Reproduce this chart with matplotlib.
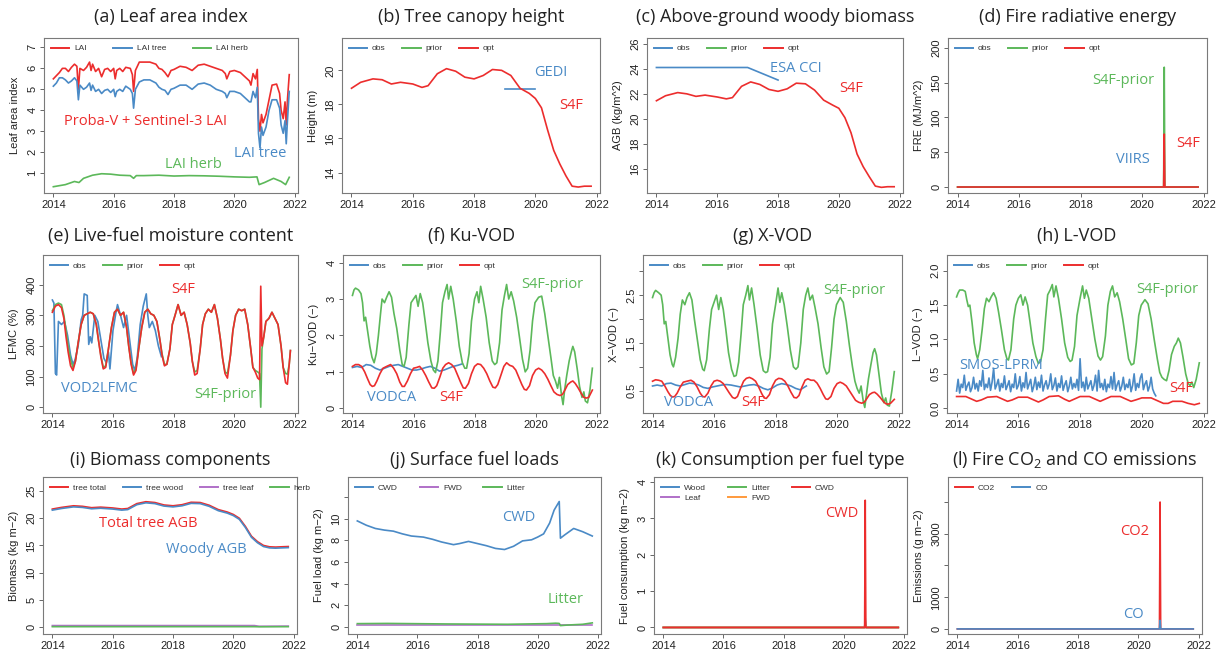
import numpy as np
import matplotlib.pyplot as plt
from matplotlib.lines import Line2D

plt.rcParams['font.family'] = ['Liberation Sans', 'DejaVu Sans']

RED = '#ec2d2d'
BLUE = '#4a8ac6'
GREEN = '#5cb85a'
PURPLE = '#b070c8'
ORANGE = '#ff9a3c'

W, H = 1219, 655
XLIM = (2013.69, 2022.11)
YEARS = [2014, 2016, 2018, 2020, 2022]

# ---------------- data ----------------
# (a) leaf area index
a_t = [2014.0, 2014.1, 2014.2, 2014.3, 2014.4, 2014.5, 2014.6, 2014.7, 2014.78, 2014.83, 2014.88,
       2015.0, 2015.1, 2015.2, 2015.25, 2015.3, 2015.4, 2015.5, 2015.6, 2015.7, 2015.8, 2015.9,
       2016.0, 2016.05, 2016.1, 2016.2, 2016.3, 2016.4, 2016.55, 2016.62, 2016.66, 2016.72, 2016.85,
       2017.0, 2017.2, 2017.4, 2017.5, 2017.6, 2017.7, 2017.8, 2017.9,
       2018.0, 2018.2, 2018.4, 2018.6, 2018.8,
       2019.0, 2019.2, 2019.4, 2019.6, 2019.7, 2019.75, 2019.85,
       2020.0, 2020.2, 2020.35, 2020.5, 2020.55, 2020.62, 2020.7, 2020.76, 2020.8, 2020.85, 2020.9, 2020.95,
       2021.05, 2021.15, 2021.25, 2021.4, 2021.5, 2021.55, 2021.62, 2021.68, 2021.72, 2021.76, 2021.82]
a_lai = [5.5, 5.65, 5.8, 6.0, 6.0, 5.85, 6.05, 6.2, 6.1, 5.0, 6.0,
         5.9, 6.05, 6.3, 5.9, 6.2, 5.85, 6.0, 5.6, 5.95, 6.0, 5.85,
         6.0, 5.5, 5.9, 6.0, 5.85, 6.05, 6.0, 5.7, 4.9, 5.9, 6.3,
         6.3, 6.3, 6.2, 6.0, 5.95, 5.8, 5.6, 5.9,
         5.95, 6.1, 6.05, 5.9, 6.15,
         6.2, 6.1, 6.0, 5.9, 5.75, 5.5, 5.85,
         5.9, 5.8, 5.6, 5.4, 5.2, 5.75, 5.5, 5.95, 3.6, 3.0, 3.8, 3.4,
         3.8, 4.5, 5.2, 5.25, 4.8, 4.0, 3.6, 4.4, 3.3, 4.5, 5.7]
a_tree = [5.15, 5.3, 5.55, 5.55, 5.45, 5.3, 5.4, 5.55, 5.4, 4.5, 5.2,
          5.0, 5.1, 5.3, 4.95, 5.2, 4.9, 5.0, 4.8, 4.95, 5.0, 4.85,
          5.0, 4.65, 4.9, 5.0, 4.9, 5.15, 5.0, 4.8, 4.1, 5.0, 5.35,
          5.45, 5.45, 5.3, 5.1, 5.0, 4.95, 4.75, 5.0,
          5.05, 5.2, 5.2, 5.0, 5.25,
          5.3, 5.2, 5.0, 4.9, 4.8, 4.6, 4.9,
          4.9, 4.8, 4.6, 4.4, 4.4, 4.9, 4.6, 5.1, 2.9, 2.2, 3.2, 2.8,
          3.2, 4.0, 4.5, 4.5, 4.1, 3.3, 2.9, 3.5, 2.4, 3.5, 4.9]
a_herb_t = [2014.0, 2014.4, 2014.7, 2014.85, 2015.0, 2015.3, 2015.6, 2015.9, 2016.2, 2016.55,
            2016.66, 2016.75, 2017.0, 2017.5, 2018.0, 2018.5, 2019.0, 2019.5, 2020.0, 2020.5,
            2020.75, 2020.82, 2021.0, 2021.3, 2021.55, 2021.7, 2021.82]
a_herb = [0.35, 0.45, 0.6, 0.55, 0.75, 0.9, 0.97, 0.95, 0.9, 0.88,
          0.75, 0.88, 0.88, 0.9, 0.86, 0.88, 0.87, 0.85, 0.82, 0.8,
          0.82, 0.45, 0.55, 0.75, 0.6, 0.45, 0.8]

# (b), (c), (i) share the model time steps
model_t = [2014.0, 2014.3, 2014.7, 2015.0, 2015.3, 2015.6, 2016.0, 2016.3, 2016.5, 2016.8,
           2017.1, 2017.4, 2017.7, 2018.0, 2018.3, 2018.6, 2018.9, 2019.2, 2019.5, 2019.8,
           2020.0, 2020.2, 2020.4, 2020.6, 2020.8, 2021.0, 2021.2, 2021.4, 2021.6, 2021.82]
b_opt = [18.95, 19.3, 19.5, 19.45, 19.2, 19.3, 19.2, 19.0, 19.1, 19.8,
         20.1, 19.95, 19.6, 19.5, 19.7, 20.05, 20.0, 19.7, 18.95, 18.65,
         18.35, 17.8, 16.5, 15.3, 14.5, 13.8, 13.2, 13.15, 13.2, 13.2]
b_obs_t = [2019.0, 2020.0]
b_obs = [18.9, 18.9]

c_opt = [21.45, 21.85, 22.1, 22.0, 21.8, 21.9, 21.75, 21.6, 21.7, 22.6,
         22.95, 22.75, 22.35, 22.2, 22.4, 22.85, 22.8, 22.3, 21.5, 21.1,
         20.85, 20.1, 18.9, 17.2, 16.2, 15.4, 14.65, 14.55, 14.6, 14.6]
c_obs_t = [2014.0, 2017.0, 2018.0]
c_obs = [24.1, 24.1, 23.1]

# (d) fire radiative energy
fire_t = [2014.0, 2020.70, 2020.72, 2020.74, 2021.82]
d_obs = [0, 0, 0, 0, 0]
d_prior = [0, 0, 172, 0, 0]
d_opt = [0, 0, 76, 0, 0]

# (e) live-fuel moisture content
e_t = [2014.0, 2014.1, 2014.2, 2014.3, 2014.38, 2014.45, 2014.52, 2014.6, 2014.68, 2014.76, 2014.85, 2014.95,
       2015.05, 2015.15, 2015.25, 2015.35, 2015.45, 2015.52, 2015.6, 2015.68, 2015.76, 2015.85, 2015.95,
       2016.05, 2016.15, 2016.25, 2016.35, 2016.45, 2016.52, 2016.6, 2016.68, 2016.76, 2016.85, 2016.95,
       2017.05, 2017.15, 2017.25, 2017.35, 2017.45, 2017.55, 2017.62, 2017.7, 2017.78, 2017.88, 2017.96,
       2018.05, 2018.15, 2018.25, 2018.35, 2018.45, 2018.55, 2018.62, 2018.7, 2018.78, 2018.88, 2018.96,
       2019.05, 2019.15, 2019.25, 2019.35, 2019.45, 2019.55, 2019.62, 2019.7, 2019.78, 2019.88, 2019.96,
       2020.05, 2020.15, 2020.25, 2020.35, 2020.45, 2020.55, 2020.62, 2020.7, 2020.78, 2020.84, 2020.88, 2020.92, 2020.98,
       2021.05, 2021.15, 2021.25, 2021.35, 2021.45, 2021.55, 2021.62, 2021.7, 2021.76, 2021.82, 2021.86]
e_opt = [310, 330, 335, 325, 290, 230, 180, 135, 120, 150, 210, 270,
         300, 305, 310, 305, 270, 220, 165, 125, 130, 190, 260,
         310, 320, 300, 310, 260, 200, 140, 105, 120, 190, 260,
         310, 320, 305, 300, 280, 220, 170, 135, 140, 190, 270,
         300, 335, 300, 310, 270, 210, 150, 105, 110, 190, 270,
         305, 320, 310, 335, 290, 220, 160, 110, 95, 170, 250,
         300, 320, 315, 320, 270, 190, 130, 115, 95, 90, 395, 200, 230,
         280, 290, 310, 290, 270, 200, 130, 80, 75, 140, 185]
e_prior = [315, 335, 340, 335, 300, 250, 200, 155, 130, 150, 210, 270,
           300, 305, 310, 305, 270, 220, 170, 130, 135, 190, 260,
           310, 320, 300, 310, 260, 200, 145, 110, 125, 190, 260,
           310, 320, 305, 300, 280, 220, 175, 140, 140, 190, 270,
           300, 335, 300, 310, 270, 210, 150, 115, 120, 190, 270,
           305, 320, 310, 335, 290, 220, 160, 115, 110, 170, 250,
           300, 320, 315, 320, 270, 190, 130, 120, 115, 110, 0, 190, 230,
           280, 290, 310, 290, 270, 200, 130, 110, 108, 140, 185]
e_obs_t = [2014.0, 2014.05, 2014.1, 2014.14, 2014.2, 2014.3, 2014.4, 2014.5, 2014.6, 2014.68, 2014.75, 2014.85, 2014.95,
           2015.0, 2015.05, 2015.15, 2015.2, 2015.25, 2015.3, 2015.4, 2015.5, 2015.6, 2015.7, 2015.78, 2015.85, 2015.9,
           2016.0, 2016.1, 2016.15, 2016.25, 2016.35, 2016.45, 2016.55, 2016.65, 2016.72, 2016.8, 2016.9,
           2017.0, 2017.1, 2017.15, 2017.2, 2017.3, 2017.4, 2017.5, 2017.6]
e_obs = [350, 340, 110, 105, 280, 270, 280, 235, 170, 140, 155, 200, 285,
         300, 370, 365, 205, 230, 210, 300, 280, 220, 160, 145, 180, 125,
         250, 310, 335, 300, 260, 300, 220, 140, 120, 160, 270,
         330, 370, 300, 260, 280, 250, 200, 165]

# (f) Ku-VOD  (time, value)
f_prior = [(2014.0, 3.1), (2014.05, 3.25), (2014.1, 3.3), (2014.2, 3.25), (2014.28, 3.15), (2014.33, 2.9),
           (2014.38, 2.4), (2014.43, 2.5), (2014.5, 2.1), (2014.57, 1.7), (2014.64, 1.4), (2014.71, 1.25),
           (2014.78, 1.5), (2014.85, 2.0), (2014.92, 2.6), (2014.97, 3.0), (2015.05, 2.9), (2015.12, 3.05),
           (2015.2, 3.2), (2015.28, 3.05), (2015.36, 2.6), (2015.45, 2.2), (2015.55, 1.6), (2015.63, 1.2),
           (2015.69, 1.15), (2015.76, 1.4), (2015.85, 2.3), (2015.92, 2.9), (2016.0, 3.0), (2016.08, 3.1),
           (2016.15, 2.8), (2016.22, 3.15), (2016.3, 2.9), (2016.38, 2.4), (2016.47, 1.8), (2016.57, 1.3),
           (2016.65, 1.05), (2016.72, 0.98), (2016.8, 1.3), (2016.88, 2.1), (2016.95, 2.9), (2017.03, 3.2),
           (2017.1, 3.4), (2017.15, 3.0), (2017.22, 3.35), (2017.3, 3.0), (2017.4, 2.4), (2017.5, 1.7),
           (2017.6, 1.25), (2017.68, 1.1), (2017.74, 1.1), (2017.82, 1.5), (2017.9, 2.4), (2018.0, 3.0),
           (2018.08, 3.2), (2018.14, 2.9), (2018.2, 3.35), (2018.28, 3.0), (2018.38, 2.5), (2018.48, 1.8),
           (2018.58, 1.3), (2018.66, 1.2), (2018.73, 1.25), (2018.82, 1.8), (2018.9, 2.7), (2018.98, 3.1),
           (2019.05, 3.4), (2019.12, 3.0), (2019.2, 3.2), (2019.28, 2.95), (2019.38, 2.5), (2019.48, 1.9),
           (2019.57, 1.35), (2019.66, 1.0), (2019.74, 1.1), (2019.82, 1.6), (2019.9, 2.4), (2019.98, 2.9),
           (2020.1, 3.05), (2020.2, 3.08), (2020.3, 2.6), (2020.4, 2.0), (2020.5, 1.4), (2020.58, 0.9),
           (2020.65, 0.75), (2020.72, 0.55), (2020.78, 0.85), (2020.85, 0.35), (2020.9, 0.1), (2020.95, 0.5),
           (2021.02, 0.9), (2021.1, 1.3), (2021.17, 1.55), (2021.22, 1.7), (2021.28, 1.55), (2021.36, 1.1),
           (2021.44, 0.6), (2021.52, 0.3), (2021.58, 0.45), (2021.63, 0.2), (2021.7, 0.15), (2021.78, 0.5),
           (2021.86, 1.1)]
f_opt = [(2014.0, 1.15), (2014.1, 1.2), (2014.2, 1.2), (2014.3, 1.15), (2014.4, 1.0), (2014.5, 0.8),
         (2014.58, 0.65), (2014.65, 0.6), (2014.72, 0.62), (2014.8, 0.75), (2014.9, 0.95), (2015.0, 1.1),
         (2015.12, 1.15), (2015.25, 1.2), (2015.35, 1.1), (2015.45, 0.95), (2015.55, 0.72), (2015.63, 0.6),
         (2015.7, 0.6), (2015.8, 0.75), (2015.9, 0.95), (2016.0, 1.1), (2016.1, 1.12), (2016.2, 1.15),
         (2016.3, 1.05), (2016.4, 0.9), (2016.5, 0.72), (2016.6, 0.56), (2016.68, 0.55), (2016.76, 0.62),
         (2016.86, 0.85), (2016.96, 1.1), (2017.05, 1.2), (2017.15, 1.25), (2017.25, 1.2), (2017.35, 1.1),
         (2017.45, 0.9), (2017.55, 0.7), (2017.63, 0.56), (2017.7, 0.55), (2017.8, 0.68), (2017.9, 0.95),
         (2018.0, 1.15), (2018.1, 1.22), (2018.2, 1.2), (2018.3, 1.1), (2018.4, 0.95), (2018.5, 0.75),
         (2018.6, 0.58), (2018.68, 0.56), (2018.76, 0.65), (2018.86, 0.9), (2018.96, 1.15), (2019.05, 1.25),
         (2019.15, 1.18), (2019.25, 1.15), (2019.35, 1.05), (2019.45, 0.85), (2019.55, 0.65), (2019.63, 0.52),
         (2019.7, 0.5), (2019.8, 0.62), (2019.9, 0.9), (2020.0, 1.05), (2020.1, 1.1), (2020.2, 1.05),
         (2020.3, 0.95), (2020.4, 0.8), (2020.5, 0.62), (2020.6, 0.45), (2020.7, 0.38), (2020.8, 0.35),
         (2020.88, 0.38), (2020.96, 0.5), (2021.05, 0.65), (2021.15, 0.72), (2021.22, 0.75), (2021.3, 0.68),
         (2021.4, 0.55), (2021.5, 0.4), (2021.58, 0.3), (2021.66, 0.28), (2021.74, 0.3), (2021.86, 0.5)]
f_obs = [(2014.0, 1.12), (2014.15, 1.15), (2014.3, 1.12), (2014.45, 1.2), (2014.6, 1.18), (2014.75, 1.1),
         (2014.9, 1.05), (2015.05, 1.1), (2015.2, 1.15), (2015.35, 1.18), (2015.5, 1.2), (2015.65, 1.15),
         (2015.8, 1.1), (2015.95, 1.05), (2016.1, 1.05), (2016.25, 1.08), (2016.4, 1.12), (2016.55, 1.15),
         (2016.7, 1.1), (2016.85, 1.02), (2017.0, 1.05), (2017.15, 1.1), (2017.3, 1.15), (2017.45, 1.18),
         (2017.6, 1.22)]

# (g) X-VOD
g_prior = [(2014.0, 2.45), (2014.05, 2.55), (2014.1, 2.6), (2014.2, 2.55), (2014.28, 2.5), (2014.33, 2.3),
           (2014.38, 1.9), (2014.43, 1.95), (2014.5, 1.6), (2014.57, 1.25), (2014.64, 1.05), (2014.68, 1.0),
           (2014.75, 1.2), (2014.83, 1.6), (2014.9, 2.1), (2014.97, 2.4), (2015.05, 2.3), (2015.12, 2.45),
           (2015.2, 2.55), (2015.28, 2.4), (2015.36, 2.0), (2015.45, 1.6), (2015.55, 1.15), (2015.63, 0.95),
           (2015.68, 0.92), (2015.76, 1.15), (2015.85, 1.8), (2015.92, 2.2), (2016.0, 2.35), (2016.08, 2.5),
           (2016.15, 2.2), (2016.22, 2.45), (2016.3, 2.2), (2016.38, 1.8), (2016.47, 1.3), (2016.57, 0.95),
           (2016.65, 0.8), (2016.72, 0.82), (2016.8, 1.1), (2016.88, 1.7), (2016.95, 2.3), (2017.03, 2.5),
           (2017.1, 2.7), (2017.15, 2.4), (2017.22, 2.65), (2017.3, 2.3), (2017.4, 1.8), (2017.5, 1.25),
           (2017.6, 0.92), (2017.68, 0.88), (2017.74, 0.9), (2017.82, 1.2), (2017.9, 1.9), (2018.0, 2.3),
           (2018.08, 2.65), (2018.14, 2.35), (2018.2, 2.55), (2018.28, 2.3), (2018.38, 1.85), (2018.48, 1.35),
           (2018.58, 1.0), (2018.66, 0.95), (2018.73, 1.0), (2018.82, 1.5), (2018.9, 2.2), (2018.98, 2.5),
           (2019.05, 2.65), (2019.12, 2.4), (2019.2, 2.5), (2019.28, 2.25), (2019.38, 1.9), (2019.48, 1.4),
           (2019.57, 1.0), (2019.66, 0.85), (2019.74, 0.9), (2019.82, 1.4), (2019.9, 2.0), (2019.98, 2.3),
           (2020.1, 2.45), (2020.2, 2.35), (2020.3, 1.95), (2020.4, 1.45), (2020.5, 1.0), (2020.58, 0.7),
           (2020.65, 0.55), (2020.72, 0.45), (2020.78, 0.6), (2020.85, 0.28), (2020.9, 0.15), (2020.95, 0.4),
           (2021.02, 0.75), (2021.1, 1.05), (2021.17, 1.3), (2021.22, 1.38), (2021.28, 1.25), (2021.36, 0.85),
           (2021.44, 0.45), (2021.52, 0.25), (2021.58, 0.35), (2021.63, 0.2), (2021.7, 0.18), (2021.78, 0.5),
           (2021.86, 0.9)]
g_opt = [(2014.0, 0.7), (2014.1, 0.73), (2014.2, 0.72), (2014.3, 0.7), (2014.4, 0.6), (2014.5, 0.48),
         (2014.58, 0.4), (2014.65, 0.37), (2014.72, 0.38), (2014.8, 0.45), (2014.9, 0.58), (2015.0, 0.68),
         (2015.12, 0.7), (2015.25, 0.72), (2015.35, 0.68), (2015.45, 0.58), (2015.55, 0.45), (2015.63, 0.38),
         (2015.7, 0.37), (2015.8, 0.45), (2015.9, 0.6), (2016.0, 0.7), (2016.1, 0.72), (2016.2, 0.7),
         (2016.3, 0.65), (2016.4, 0.55), (2016.5, 0.45), (2016.6, 0.36), (2016.68, 0.34), (2016.76, 0.38),
         (2016.86, 0.55), (2016.96, 0.7), (2017.05, 0.76), (2017.15, 0.78), (2017.25, 0.75), (2017.35, 0.7),
         (2017.45, 0.58), (2017.55, 0.44), (2017.63, 0.35), (2017.7, 0.34), (2017.8, 0.42), (2017.9, 0.6),
         (2018.0, 0.72), (2018.1, 0.76), (2018.2, 0.75), (2018.3, 0.7), (2018.4, 0.6), (2018.5, 0.47),
         (2018.6, 0.36), (2018.68, 0.35), (2018.76, 0.4), (2018.86, 0.58), (2018.96, 0.72), (2019.05, 0.75),
         (2019.15, 0.72), (2019.25, 0.72), (2019.35, 0.66), (2019.45, 0.55), (2019.55, 0.42), (2019.63, 0.33),
         (2019.7, 0.32), (2019.8, 0.38), (2019.9, 0.55), (2020.0, 0.65), (2020.1, 0.68), (2020.2, 0.65),
         (2020.3, 0.6), (2020.4, 0.5), (2020.5, 0.4), (2020.6, 0.3), (2020.7, 0.26), (2020.8, 0.24),
         (2020.88, 0.26), (2020.96, 0.33), (2021.05, 0.42), (2021.15, 0.46), (2021.22, 0.47), (2021.3, 0.43),
         (2021.4, 0.36), (2021.5, 0.28), (2021.58, 0.23), (2021.66, 0.22), (2021.74, 0.24), (2021.86, 0.32)]
g_obs = [(2014.0, 0.6), (2014.15, 0.62), (2014.3, 0.6), (2014.45, 0.65), (2014.6, 0.66), (2014.75, 0.62),
         (2014.9, 0.6), (2015.05, 0.63), (2015.2, 0.66), (2015.35, 0.65), (2015.5, 0.62), (2015.65, 0.57),
         (2015.8, 0.55), (2015.95, 0.58), (2016.1, 0.6), (2016.25, 0.62), (2016.4, 0.63), (2016.55, 0.62),
         (2016.7, 0.6), (2016.85, 0.58), (2017.0, 0.6), (2017.15, 0.62), (2017.3, 0.63), (2017.45, 0.6),
         (2017.6, 0.55), (2017.75, 0.52), (2017.9, 0.56), (2018.05, 0.62), (2018.2, 0.65), (2018.35, 0.63),
         (2018.5, 0.6), (2018.65, 0.55), (2018.8, 0.52), (2018.9, 0.56), (2019.0, 0.6)]

# (h) L-VOD
h_prior = [(2014.0, 1.62), (2014.05, 1.68), (2014.1, 1.72), (2014.2, 1.72), (2014.28, 1.7), (2014.33, 1.58),
           (2014.38, 1.48), (2014.43, 1.5), (2014.5, 1.25), (2014.57, 0.95), (2014.64, 0.78), (2014.68, 0.72),
           (2014.75, 0.85), (2014.83, 1.15), (2014.9, 1.45), (2014.97, 1.6), (2015.05, 1.55), (2015.12, 1.62),
           (2015.2, 1.68), (2015.28, 1.6), (2015.36, 1.4), (2015.45, 1.15), (2015.55, 0.85), (2015.63, 0.72),
           (2015.68, 0.7), (2015.76, 0.85), (2015.85, 1.3), (2015.92, 1.5), (2016.0, 1.6), (2016.08, 1.65),
           (2016.15, 1.5), (2016.22, 1.62), (2016.3, 1.5), (2016.38, 1.25), (2016.47, 0.95), (2016.57, 0.75),
           (2016.65, 0.65), (2016.72, 0.68), (2016.8, 0.85), (2016.88, 1.3), (2016.95, 1.65), (2017.03, 1.72),
           (2017.1, 1.8), (2017.15, 1.62), (2017.22, 1.78), (2017.3, 1.6), (2017.4, 1.3), (2017.5, 0.95),
           (2017.6, 0.74), (2017.68, 0.68), (2017.74, 0.7), (2017.82, 0.9), (2017.9, 1.35), (2018.0, 1.6),
           (2018.08, 1.78), (2018.14, 1.6), (2018.2, 1.72), (2018.28, 1.6), (2018.38, 1.3), (2018.48, 1.0),
           (2018.58, 0.76), (2018.66, 0.7), (2018.73, 0.75), (2018.82, 1.05), (2018.9, 1.5), (2018.98, 1.7),
           (2019.05, 1.78), (2019.12, 1.62), (2019.2, 1.68), (2019.28, 1.55), (2019.38, 1.3), (2019.48, 1.0),
           (2019.57, 0.72), (2019.66, 0.63), (2019.74, 0.65), (2019.82, 0.95), (2019.9, 1.35), (2019.98, 1.5),
           (2020.1, 1.58), (2020.2, 1.52), (2020.3, 1.3), (2020.4, 1.0), (2020.5, 0.72), (2020.58, 0.52),
           (2020.65, 0.45), (2020.72, 0.42), (2020.8, 0.4), (2020.88, 0.55), (2020.96, 0.78), (2021.05, 0.9),
           (2021.12, 0.95), (2021.18, 1.02), (2021.25, 0.95), (2021.33, 0.75), (2021.42, 0.5), (2021.5, 0.36),
           (2021.56, 0.33), (2021.62, 0.38), (2021.68, 0.3), (2021.76, 0.42), (2021.86, 0.66)]
h_opt = [(2014.0, 0.17), (2014.3, 0.17), (2014.5, 0.13), (2014.65, 0.1), (2014.8, 0.12), (2015.0, 0.16),
         (2015.3, 0.17), (2015.5, 0.13), (2015.65, 0.1), (2015.8, 0.12), (2016.0, 0.16), (2016.3, 0.16),
         (2016.5, 0.12), (2016.65, 0.09), (2016.8, 0.12), (2017.0, 0.17), (2017.3, 0.18), (2017.5, 0.13),
         (2017.65, 0.1), (2017.8, 0.13), (2018.0, 0.17), (2018.3, 0.17), (2018.5, 0.13), (2018.65, 0.1),
         (2018.8, 0.13), (2019.0, 0.17), (2019.3, 0.17), (2019.5, 0.13), (2019.65, 0.1), (2019.8, 0.12),
         (2020.0, 0.15), (2020.3, 0.15), (2020.5, 0.11), (2020.7, 0.07), (2020.85, 0.07), (2021.0, 0.1),
         (2021.3, 0.1), (2021.5, 0.07), (2021.7, 0.05), (2021.86, 0.07)]
# SMOS-LPRM observations, one value every 0.05 yr from 2014.0 to 2020.45
h_obs = [0.25, 0.42, 0.22, 0.35, 0.30, 0.48, 0.26, 0.33, 0.38, 0.24, 0.30, 0.45, 0.28, 0.36, 0.25, 0.40, 0.32, 0.55, 0.27, 0.35,
         0.30, 0.44, 0.26, 0.38, 0.58, 0.28, 0.34, 0.42, 0.25, 0.36, 0.30, 0.47, 0.27, 0.33, 0.40, 0.24, 0.35, 0.30, 0.50, 0.28,
         0.33, 0.46, 0.25, 0.37, 0.30, 0.52, 0.28, 0.35, 0.42, 0.24, 0.32, 0.45, 0.27, 0.38, 0.30, 0.48, 0.25, 0.34, 0.40, 0.28,
         0.35, 0.50, 0.27, 0.33, 0.44, 0.25, 0.36, 0.30, 0.47, 0.26, 0.34, 0.40, 0.24, 0.32, 0.45, 0.28, 0.36, 0.30, 0.42, 0.26,
         0.72, 0.30, 0.38, 0.25, 0.45, 0.28, 0.34, 0.40, 0.26, 0.33, 0.48, 0.25, 0.55, 0.30, 0.36, 0.27, 0.42, 0.24, 0.35, 0.30,
         0.46, 0.28, 0.52, 0.26, 0.34, 0.40, 0.25, 0.32, 0.45, 0.27, 0.35, 0.30, 0.42, 0.24, 0.33, 0.50, 0.26, 0.36, 0.30, 0.44,
         0.50, 0.27, 0.35, 0.40, 0.25, 0.32, 0.45, 0.28, 0.22, 0.18]

# (i) biomass components
i_total = [21.7, 22.0, 22.3, 22.2, 21.95, 22.05, 21.9, 21.7, 21.8, 22.7,
           23.05, 22.9, 22.45, 22.3, 22.5, 22.95, 22.9, 22.4, 21.6, 21.15,
           20.7, 20.0, 18.5, 16.7, 15.7, 15.0, 14.75, 14.7, 14.75, 14.8]
i_wood = [21.5, 21.8, 22.1, 22.0, 21.75, 21.85, 21.7, 21.5, 21.6, 22.5,
          22.85, 22.7, 22.25, 22.1, 22.3, 22.75, 22.7, 22.2, 21.4, 20.95,
          20.5, 19.8, 18.3, 16.5, 15.5, 14.8, 14.55, 14.5, 14.55, 14.6]
i_small_t = [2014.0, 2020.7, 2020.85, 2021.82]
i_leaf = [0.25, 0.25, 0.12, 0.15]
i_herb = [0.05, 0.05, 0.03, 0.05]

# (j) surface fuel loads
j_t = [2014.0, 2014.3, 2014.6, 2014.9, 2015.2, 2015.5, 2015.8, 2016.2, 2016.5, 2016.8,
       2017.2, 2017.4, 2017.7, 2018.0, 2018.3, 2018.6, 2018.9, 2019.2, 2019.5, 2019.8,
       2020.0, 2020.2, 2020.4, 2020.55, 2020.72, 2020.76, 2020.9, 2021.2, 2021.5, 2021.82]
j_cwd = [9.8, 9.4, 9.1, 8.95, 8.85, 8.6, 8.4, 8.3, 8.1, 7.85,
         7.6, 7.7, 7.9, 7.7, 7.5, 7.25, 7.15, 7.45, 7.95, 8.05,
         8.3, 8.6, 9.6, 10.8, 11.6, 8.2, 8.5, 9.1, 8.8, 8.4]
j_fwd_t = [2014.0, 2021.82]
j_fwd = [0.12, 0.12]
j_litter_t = [2014.0, 2015.0, 2017.0, 2019.0, 2020.3, 2020.6, 2020.72, 2020.76, 2021.0, 2021.5, 2021.82]
j_litter = [0.28, 0.3, 0.25, 0.22, 0.28, 0.32, 0.3, 0.1, 0.15, 0.22, 0.35]

# (k) consumption per fuel type, (l) emissions
k_wood = [0, 0, 0.25, 0, 0]
k_leaf = [0, 0, 0.05, 0, 0]
k_litter = [0, 0, 0.2, 0, 0]
k_fwd = [0, 0, 0.1, 0, 0]
k_cwd = [0, 0, 3.5, 0, 0]
l_co2 = [0, 0, 4000, 0, 0]
l_co = [0, 0, 270, 0, 0]

# ---------------- drawing ----------------
fig = plt.figure(figsize=(W / 100, H / 100), dpi=100)


def setup(box, ylim, yticks, ylabel, ylabels=None):
    l, t, r, b = box
    ax = fig.add_axes([l / W, 1 - b / H, (r - l) / W, (b - t) / H])
    ax.set_xlim(*XLIM)
    ax.set_ylim(*ylim)
    ax.set_xticks(YEARS)
    ax.set_xticklabels([str(y) for y in YEARS])
    ax.set_yticks(yticks)
    if ylabels is None:
        ylabels = [str(v) for v in yticks]
    ax.set_yticklabels(ylabels, rotation=90, va='center')
    ax.tick_params(direction='out', length=3.2, width=0.7, color='#666666',
                   labelsize=8, labelcolor='#222222', pad=1.5)
    for s in ax.spines.values():
        s.set_color('#7a7a7a')
        s.set_linewidth(0.8)
    ax.set_ylabel(ylabel, fontsize=8, color='#222222')
    ax.yaxis.set_label_coords(-24 / (r - l), 0.5)
    return ax


def title(ax, text, cy):
    bb = ax.get_position()
    fig.text((bb.x0 + bb.x1) / 2, 1 - cy / H, text, ha='center', va='center',
             fontsize=13, family='Open Sans', color='#222222')


def legend(ax, labels, colors, ncol=None, colsp=2.0):
    handles = [Line2D([], [], color=c, lw=1.4) for c in colors]
    ax.legend(handles, labels, loc='upper left', ncol=ncol or len(labels), frameon=False,
              fontsize=6, handlelength=2.2, handletextpad=0.6, columnspacing=colsp,
              borderaxespad=0.4, borderpad=0.4, labelspacing=0.3, labelcolor='#333333')


def note(ax, x, y, s, c):
    ax.text(x, y, s, color=c, fontsize=10.5, family='Open Sans', ha='center', va='center')


def plot_pairs(ax, pairs, c):
    t, v = zip(*pairs)
    ax.plot(t, v, color=c, lw=1.2)


LW = 1.2
R1, R2, R3 = (38, 193), (255, 413), (477, 634)
OBS3 = (['obs', 'prior', 'opt'], [BLUE, GREEN, RED])

# (a)
ax = setup((44, R1[0], 298, R1[1]), (0.05, 7.45), [1, 2, 3, 4, 5, 6, 7], 'Leaf area index')
ax.plot(a_t, a_lai, color=RED, lw=LW)
ax.plot(a_t, a_tree, color=BLUE, lw=LW)
ax.plot(a_herb_t, a_herb, color=GREEN, lw=LW)
legend(ax, ['LAI', 'LAI tree', 'LAI herb'], [RED, BLUE, GREEN], colsp=3.2)
note(ax, 2017.05, 3.45, 'Proba-V + Sentinel-3 LAI', RED)
note(ax, 2020.85, 1.95, 'LAI tree', BLUE)
note(ax, 2018.65, 1.4, 'LAI herb', GREEN)
title(ax, '(a) Leaf area index', 17)

# (b)
ax = setup((342, R1[0], 600, R1[1]), (12.8, 21.9), [14, 16, 18, 20], 'Height (m)')
ax.plot(b_obs_t, b_obs, color=BLUE, lw=LW)
ax.plot(model_t, b_opt, color=RED, lw=LW)
legend(ax, *OBS3)
note(ax, 2020.5, 19.85, 'GEDI', BLUE)
note(ax, 2021.17, 17.95, 'S4F', RED)
title(ax, '(b) Tree canopy height', 17)

# (c)
ax = setup((647, R1[0], 903, R1[1]), (14.1, 26.45), [16, 18, 20, 22, 24, 26], 'AGB (kg/m^2)')
ax.plot(c_obs_t, c_obs, color=BLUE, lw=LW)
ax.plot(model_t, c_opt, color=RED, lw=LW)
legend(ax, *OBS3)
note(ax, 2018.6, 24.05, 'ESA CCI', BLUE)
note(ax, 2020.4, 22.45, 'S4F', RED)
title(ax, '(c) Above-ground woody biomass', 17)

# (d)
ax = setup((948, R1[0], 1207, R1[1]), (-8.6, 214), [0, 50, 100, 150, 200], 'FRE (MJ/m^2)')
ax.plot(fire_t, d_obs, color=BLUE, lw=LW)
ax.plot(fire_t, d_prior, color=GREEN, lw=LW)
ax.plot(fire_t, d_opt, color=RED, lw=LW)
legend(ax, *OBS3)
note(ax, 2019.4, 153, 'S4F-prior', GREEN)
note(ax, 2021.5, 63, 'S4F', RED)
note(ax, 2019.7, 39, 'VIIRS', BLUE)
title(ax, '(d) Fire radiative energy', 17)

# (e)
ax = setup((43, R2[0], 298, R2[1]), (-19, 497), [0, 100, 200, 300, 400], 'LFMC (%)')
ax.plot(e_obs_t, e_obs, color=BLUE, lw=LW)
ax.plot(e_t, e_prior, color=GREEN, lw=LW)
ax.plot(e_t, e_opt, color=RED, lw=LW)
legend(ax, *OBS3)
note(ax, 2018.33, 384, 'S4F', RED)
note(ax, 2015.55, 62, 'VOD2LFMC', BLUE)
note(ax, 2019.7, 41, 'S4F-prior', GREEN)
title(ax, '(e) Live-fuel moisture content', 236)

# (f)
ax = setup((343, R2[0], 600, R2[1]), (-0.13, 4.21), [0, 1, 2, 3, 4], 'Ku\u2212VOD (\u2212)')
plot_pairs(ax, f_obs, BLUE)
plot_pairs(ax, f_prior, GREEN)
plot_pairs(ax, f_opt, RED)
legend(ax, *OBS3)
note(ax, 2020.54, 3.4, 'S4F-prior', GREEN)
note(ax, 2015.27, 0.3, 'VODCA', BLUE)
note(ax, 2017.24, 0.3, 'S4F', RED)
title(ax, '(f) Ku-VOD', 236)

# (g)
ax = setup((643, R2[0], 902, R2[1]), (0.035, 3.34), [0.5, 1.0, 1.5, 2.0, 2.5, 3.0], 'X\u2212VOD (\u2212)',
           ['0.5', '', '1.5', '', '2.5', ''])
plot_pairs(ax, g_obs, BLUE)
plot_pairs(ax, g_prior, GREEN)
plot_pairs(ax, g_opt, RED)
legend(ax, *OBS3)
note(ax, 2020.55, 2.6, 'S4F-prior', GREEN)
note(ax, 2015.18, 0.26, 'VODCA', BLUE)
note(ax, 2017.28, 0.26, 'S4F', RED)
title(ax, '(g) X-VOD', 236)

# (h)
ax = setup((947, R2[0], 1207, R2[1]), (-0.07, 2.23), [0.0, 0.5, 1.0, 1.5, 2.0], 'L\u2212VOD (\u2212)',
           ['0.0', '0.5', '1.0', '1.5', '2.0'])
ax.plot(np.linspace(2014.0, 2020.45, len(h_obs)), h_obs, color=BLUE, lw=LW)
plot_pairs(ax, h_prior, GREEN)
plot_pairs(ax, h_opt, RED)
legend(ax, *OBS3)
note(ax, 2020.82, 1.73, 'S4F-prior', GREEN)
note(ax, 2015.45, 0.62, 'SMOS-LPRM', BLUE)
note(ax, 2021.26, 0.29, 'S4F', RED)
title(ax, '(h) L-VOD', 236)

# (i)
ax = setup((43, R3[0], 297, R3[1]), (-1.3, 27.6), [0, 5, 10, 15, 20, 25], 'Biomass (kg m\u22122)')
ax.plot(model_t, i_total, color=RED, lw=LW)
ax.plot(model_t, i_wood, color=BLUE, lw=LW)
ax.plot(i_small_t, i_leaf, color=PURPLE, lw=LW)
ax.plot(i_small_t, i_herb, color=GREEN, lw=LW)
legend(ax, ['tree total', 'tree wood', 'tree leaf', 'herb'], [RED, BLUE, PURPLE, GREEN], colsp=2.0)
note(ax, 2017.17, 19.0, 'Total tree AGB', RED)
note(ax, 2019.1, 14.2, 'Woody AGB', BLUE)
title(ax, '(i) Biomass components', 460)

# (j)
ax = setup((348, R3[0], 601, R3[1]), (-0.68, 13.87), [0, 2, 4, 6, 8, 10, 12], 'Fuel load (kg m\u22122)',
           ['0', '2', '4', '6', '8', '10', ''])
ax.plot(j_t, j_cwd, color=BLUE, lw=LW)
ax.plot(j_fwd_t, j_fwd, color=PURPLE, lw=LW)
ax.plot(j_litter_t, j_litter, color=GREEN, lw=LW)
legend(ax, ['CWD', 'FWD', 'Litter'], [BLUE, PURPLE, GREEN], colsp=2.6)
note(ax, 2019.38, 10.15, 'CWD', BLUE)
note(ax, 2020.93, 2.55, 'Litter', GREEN)
title(ax, '(j) Surface fuel loads', 460)

# (k)
ax = setup((654, R3[0], 907, R3[1]), (-0.18, 4.14), [0, 1, 2, 3, 4], 'Fuel consumption (kg m\u22122)')
for vals, c in [(k_wood, BLUE), (k_leaf, PURPLE), (k_litter, GREEN), (k_fwd, ORANGE), (k_cwd, RED)]:
    ax.plot(fire_t, vals, color=c, lw=LW)
legend(ax, ['Wood', 'Leaf', 'Litter', 'FWD', 'CWD'], [BLUE, PURPLE, GREEN, ORANGE, RED], ncol=3, colsp=2.6)
note(ax, 2019.95, 3.13, 'CWD', RED)
title(ax, '(k) Consumption per fuel type', 460)

# (l)
ax = setup((948, R3[0], 1202, R3[1]), (-160, 4790), [0, 1000, 2000, 3000, 4000], 'Emissions (g m\u22122)',
           ['0', '1000', '', '3000', ''])
ax.plot(fire_t, l_co2, color=RED, lw=LW)
ax.plot(fire_t, l_co, color=BLUE, lw=LW)
legend(ax, ['CO2', 'CO'], [RED, BLUE], colsp=2.0)
note(ax, 2019.86, 3086, 'CO2', RED)
note(ax, 2019.84, 450, 'CO', BLUE)
title(ax, '(l) Fire CO$_\\mathregular{2}$ and CO emissions', 460)

fig.savefig('out.png', dpi=100)
